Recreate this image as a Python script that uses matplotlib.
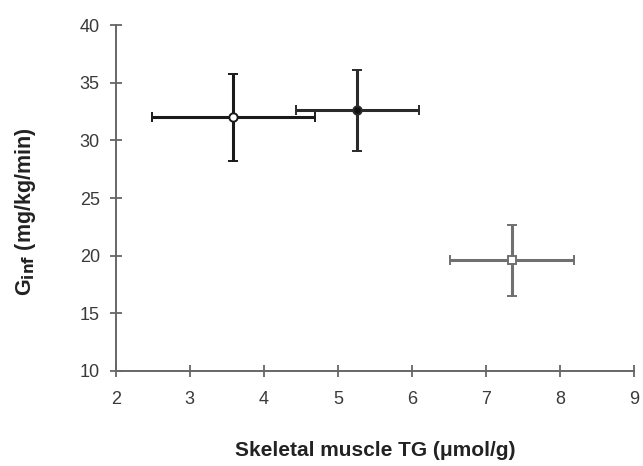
import matplotlib.pyplot as plt

plt.rcParams['font.family'] = ['Liberation Sans', 'DejaVu Sans']

# group means and SEM
tg = [3.59, 5.26, 7.35]
tg_err = [1.1, 0.83, 0.84]
ginf = [32.0, 32.6, 19.6]
ginf_err = [3.8, 3.55, 3.1]
colors = ['#1a1a1a', '#2a2a2a', '#707070']
markers = ['o', 'o', 's']
faces = ['white', '#111111', 'white']

fig = plt.figure(figsize=(6.43, 4.66), dpi=100)
ax = fig.add_axes([0.180, 0.204, 0.806, 0.742])

for i in range(len(tg)):
    ax.errorbar(tg[i], ginf[i], xerr=tg_err[i], yerr=ginf_err[i],
                fmt=markers[i], color=colors[i], mfc=faces[i], mec=colors[i],
                ms=6, mew=1.4, elinewidth=2.2, capsize=3.5, capthick=1.6)

ax.set_xlim(2, 9)
ax.set_ylim(10, 40)
ax.set_xticks(range(2, 10))
ax.set_yticks(range(10, 41, 5))

for s in ['top', 'right']:
    ax.spines[s].set_visible(False)
for s in ['left', 'bottom']:
    ax.spines[s].set_color('#666666')
    ax.spines[s].set_linewidth(1.4)
ax.tick_params(direction='inout', length=9, width=1.3, color='#666666',
               labelsize=13, labelcolor='#3a3a3a')
ax.tick_params(axis='x', pad=10)
ax.tick_params(axis='y', pad=7)

ax.set_xlabel('Skeletal muscle TG (\u03bcmol/g)', fontsize=15, fontweight='bold',
              color='#222222', labelpad=24)
ax.set_ylabel('G$_{\\mathbf{inf}}$ (mg/kg/min)', fontsize=15.5, fontweight='bold',
              color='#222222', labelpad=30)
ax.yaxis.set_label_coords(-0.15, 0.46)

fig.savefig('out.png', dpi=100)
